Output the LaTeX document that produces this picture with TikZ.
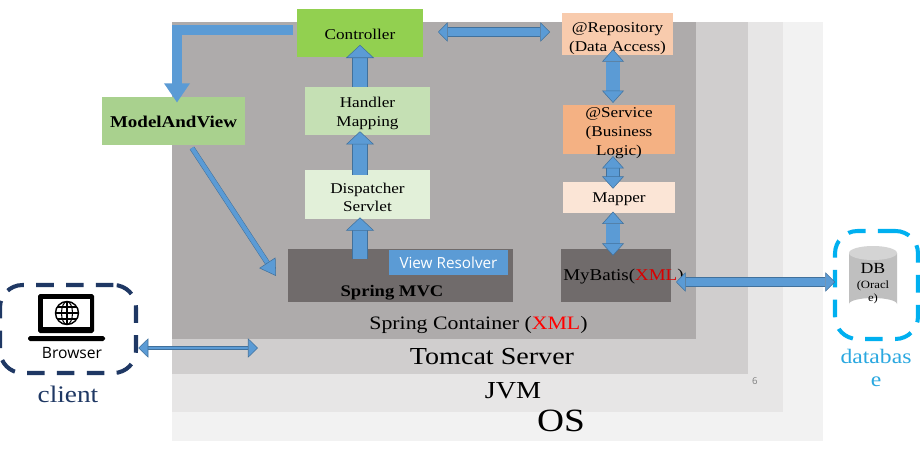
\documentclass[tikz,border=0pt]{standalone}
\usepackage{fontspec}
\setmainfont[FakeStretch=1.15]{Liberation Serif}
\newfontfamily\uifont{Open Sans}
\usetikzlibrary{arrows.meta}
\newcommand{\lowtext}[1]{\rule{0pt}{#1pt}}
\definecolor{osgray}{HTML}{F2F2F2}
\definecolor{jvmgray}{HTML}{E7E6E6}
\definecolor{tomcatgray}{HTML}{D0CECE}
\definecolor{springgray}{HTML}{AEABAB}
\definecolor{darkblock}{HTML}{706B6B}
\definecolor{controllergreen}{HTML}{92D050}
\definecolor{handlergreen}{HTML}{C5E0B4}
\definecolor{dispatchergreen}{HTML}{E2F0D9}
\definecolor{modelgreen}{HTML}{A9D18E}
\definecolor{repoorange}{HTML}{F8CBAD}
\definecolor{serviceorange}{HTML}{F4B183}
\definecolor{mapperorange}{HTML}{FBE5D6}
\definecolor{arrowblue}{HTML}{5B9BD5}
\definecolor{arrowedge}{HTML}{41719C}
\definecolor{clientblue}{HTML}{1F3864}
\definecolor{dbblue}{HTML}{00B0F0}
\definecolor{dbtextblue}{HTML}{2AA8E0}
\begin{document}
\begin{tikzpicture}[x=0.02cm,y=-0.02cm,
    block/.style ={inner sep=0pt, align=center, font=\fontsize{8.5pt}{10.8pt}\selectfont},
    label/.style ={inner sep=0pt, align=center},
    uparrow/.style ={draw=arrowedge, line width=0.3pt, double=arrowblue, double distance=8pt,
        -{Triangle[width=16pt,length=7.5pt,fill=arrowblue]}},
    bigarrow/.style ={draw=arrowedge, line width=0.3pt, double=arrowblue, double distance=7.5pt,
        {Triangle[width=12.5pt,length=7pt,fill=arrowblue]}-{Triangle[width=12.5pt,length=7pt,fill=arrowblue]}},
    midarrow/.style ={draw=arrowedge, line width=0.3pt, double=arrowblue, double distance=5pt,
        {Triangle[width=11pt,length=5.5pt,fill=arrowblue]}-{Triangle[width=11pt,length=5.5pt,fill=arrowblue]}},
    thinarrow/.style ={draw=arrowedge, line width=0.3pt, double=arrowblue, double distance=1.6pt,
        {Triangle[width=11pt,length=5.7pt,fill=arrowblue]}-{Triangle[width=11pt,length=5.7pt,fill=arrowblue]}},
    dashbox/.style ={draw, rounded corners=0.45cm, line width=2.3pt, dash pattern=on 10pt off 7pt, inner sep=0pt}]
   \useasboundingbox (0,0) rectangle (920,456);
   \fill[white] (0,0) rectangle (920,456);
   \fill[osgray] (172,22) rectangle (823,441);
   \fill[jvmgray] (172,22) rectangle (783,412);
   \fill[tomcatgray] (172,22) rectangle (748,374);
   \fill[springgray] (172,22) rectangle (696,339);

   \node[block, fill=controllergreen, minimum width=2.52cm, minimum height=0.98cm] (controller) at (360,33) {\lowtext{7.3}Controller};
   \node[block, fill=handlergreen, minimum width=2.5cm, minimum height=0.96cm] (handler) at (367.5,111) {\lowtext{9.2}Handler\\Mapping};
   \node[block, fill=dispatchergreen, minimum width=2.5cm, minimum height=0.98cm] (dispatcher) at (367.5,194.5) {\lowtext{9.2}Dispatcher\\Servlet};
   \node[block, fill=modelgreen, minimum width=2.86cm, minimum height=0.96cm, font=\fontsize{9.4pt}{11pt}\selectfont\bfseries] (modelview) at (173.5,121) {\lowtext{8}ModelAndView};
   \node[block, fill=darkblock, minimum width=4.5cm, minimum height=1.06cm] (springmvc) at (400.5,275.5) {};
   \node[label, anchor=base, font=\fontsize{9.2pt}{11pt}\selectfont\bfseries] (springmvctext) at (392,296) {Spring MVC};
   \node[label, fill=arrowblue, text=white, minimum width=2.38cm, minimum height=0.5cm, font=\uifont\fontsize{8.7pt}{10pt}\selectfont] (resolver) at (448.5,262.5) {View Resolver};

   \node[block, fill=repoorange, minimum width=2.22cm, minimum height=0.84cm] (repository) at (617.5,34) {\lowtext{10.5}@Repository\\(Data Access)};
   \node[block, fill=serviceorange, minimum width=2.24cm, minimum height=0.98cm] (service) at (619,129.5) {};
   \node[block] (servicetext) at (619,133) {@Service\\(Business\\Logic)};
   \node[block, fill=mapperorange, minimum width=2.24cm, minimum height=0.62cm] (mapper) at (619,197.5) {\lowtext{7.3}Mapper};
   \node[block, fill=darkblock, minimum width=2.2cm, minimum height=1.06cm] (mybatis) at (616,275.5) {};
   \node[label, anchor=west, font=\fontsize{9.4pt}{11pt}\selectfont] (mybatistext) at (563,277) {MyBatis(\textcolor{red!85!black}{XML})};

   \node[label, font=\fontsize{10.8pt}{12pt}\selectfont] (springlabel) at (478.5,325) {Spring Container (\textcolor{red}{XML})};
   \node[label, font=\fontsize{13.9pt}{15pt}\selectfont] (tomcatlabel) at (492,357) {Tomcat Server};
   \node[label, font=\fontsize{13.9pt}{15pt}\selectfont] (jvmlabel) at (513,391) {JVM};
   \node[label, font=\fontsize{18.5pt}{20pt}\selectfont] (oslabel) at (561,421) {OS};
   \node[label, text=gray, font=\uifont\fontsize{5.5pt}{6pt}\selectfont] (pagenum) at (755,381) {6};

   % client side
   \node[dashbox, draw=clientblue, minimum width=2.72cm, minimum height=1.76cm] (clientbox) at (68,329) {};
   \fill[black, rounded corners=1pt] (38,294) rectangle (94,333);
   \fill[white] (43,299) rectangle (90,327);
   \fill[black, rounded corners=1pt] (28,336) rectangle (105,341);
   \draw[black, line width=0.8pt] (67,313) circle (11.5);
   \draw[black, line width=0.6pt] (67,313) ellipse (5.5 and 11.5);
   \draw[black, line width=0.6pt] (67,301.5) -- (67,324.5) (55.5,313) -- (78.5,313) (57,307) -- (77,307) (57,319) -- (77,319);
   \node[label, font=\uifont\fontsize{8.9pt}{10pt}\selectfont] (browser) at (72,353) {Browser};
   \node[label, text=clientblue, font=\fontsize{13.5pt}{15pt}\selectfont] (client) at (68,394) {client};

   % database side
   \node[dashbox, draw=dbblue, minimum width=1.66cm, minimum height=2.16cm] (dbbox) at (876.5,285) {};
   \fill[black!25] (849,253) -- (849,304) arc (180:360:24 and 6) -- (897,253) -- cycle;
   \fill[black!17] (873,253) ellipse (24 and 7);
   \node[label, font=\fontsize{6.3pt}{7.4pt}\selectfont] (dbtext) at (873,284) {{\fontsize{8.8pt}{10pt}\selectfont DB}\\[1.2pt](Oracl\\e)};
   \node[label, text=dbtextblue, font=\fontsize{11.7pt}{13pt}\selectfont] (database) at (876,368) {databas\\e};

   % arrows
   \coordinate (ctrlleft) at (293,30);
   \coordinate (tomcatend) at (258,348);
   \coordinate (dataaxis) at (613,0);
   \coordinate (viewend) at (276,276);
   \coordinate (modelstart) at (192,148);
   \draw[draw=arrowblue, line width=5.7pt, -{Triangle[width=14pt,length=11pt]}, shorten >=-3.4pt] (ctrlleft) -| ([xshift=0.07cm]modelview.north);
   \draw[uparrow, shorten >=-7.4pt] (handler.north -| controller.south) -- (controller.south);
   \draw[uparrow, shorten <=-2.8pt, shorten >=-2.3pt] (dispatcher.north -| controller.south) -- (handler.south -| controller.south);
   \draw[uparrow, shorten <=-5.7pt, shorten >=-1.1pt] (springmvc.north -| controller.south) -- (dispatcher.south -| controller.south);
   \draw[draw=arrowedge, line width=0.3pt, double=arrowblue, double distance=2.4pt, -{Triangle[width=11pt,length=9pt,fill=arrowblue]}] (modelstart) -- (viewend);
   \draw[bigarrow, shorten <=-3.4pt, shorten >=1pt] (repository.south -| dataaxis) -- (service.north -| dataaxis);
   \draw[bigarrow, double distance=7pt, shorten <=1pt, shorten >=-4pt] (service.south -| dataaxis) -- (mapper.north -| dataaxis);
   \draw[bigarrow, shorten <=-1pt, shorten >=-4pt] (mapper.south -| dataaxis) -- (mybatis.north -| dataaxis);
   \draw[midarrow] (438,32) -- (550,32);
   \draw[thinarrow, shorten <=-1pt] (clientbox.east |- tomcatend) ++(2,0) -- (tomcatend);
   \draw[midarrow] (676,282) -- (835,282);
\end{tikzpicture}
\end{document}
